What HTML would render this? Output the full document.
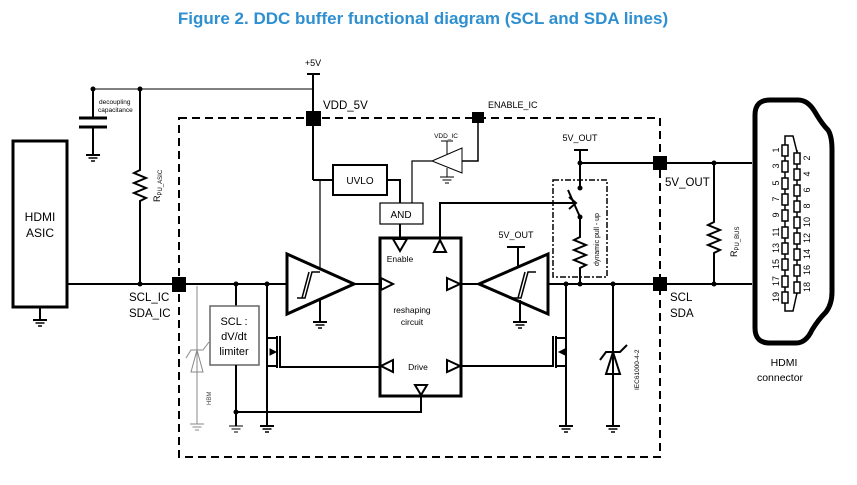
<!DOCTYPE html>
<html><head><meta charset="utf-8"><style>
html,body{margin:0;padding:0;background:#fff;}
svg{display:block;font-family:"Liberation Sans",Arial,sans-serif;}
</style></head><body>
<svg width="857" height="485" viewBox="0 0 857 485" xmlns="http://www.w3.org/2000/svg">
<defs>
<g id="gnd"><line x1="-7" y1="0" x2="7" y2="0" stroke="#000" stroke-width="2"/><line x1="-4.5" y1="3" x2="4.5" y2="3" stroke="#000" stroke-width="1.5"/><line x1="-2" y1="6" x2="2" y2="6" stroke="#000" stroke-width="1.5"/></g>
<g id="gndt"><line x1="-7" y1="0" x2="7" y2="0" stroke="#000" stroke-width="1"/><line x1="-4.5" y1="3" x2="4.5" y2="3" stroke="#000" stroke-width="1"/><line x1="-2" y1="6" x2="2" y2="6" stroke="#000" stroke-width="1"/></g>
</defs>
<text x="423" y="24" text-anchor="middle" font-size="17" font-weight="bold" fill="#2e8fd1">Figure 2. <tspan fill="#2e8fd1">DDC buffer functional diagram (SCL and SDA lines)</tspan></text>

<g fill="none" stroke="#000" stroke-width="2">
<rect x="179" y="118" width="481" height="339" stroke-dasharray="8,5"/>
<line x1="307" y1="74" x2="320" y2="74"/>
<line x1="313" y1="74" x2="313" y2="180"/>
<line x1="93" y1="89" x2="313" y2="89" stroke-width="1"/>
<line x1="93" y1="89" x2="93" y2="118"/>
<line x1="79" y1="118" x2="107" y2="118" stroke-width="3"/>
<line x1="79" y1="127" x2="107" y2="127" stroke-width="3"/>
<line x1="93" y1="127" x2="93" y2="155"/>
<polyline points="140,89 140,170 134,173 146,178 134,183 146,188 134,193 146,198 140,201 140,284"/>
<rect x="13" y="141" width="54" height="166" stroke-width="3"/>
<line x1="40" y1="307" x2="40" y2="320"/>
<line x1="67" y1="284" x2="286" y2="284"/>
<line x1="313" y1="180" x2="333" y2="180"/>
<rect x="333" y="165" width="54" height="30"/>
<polyline points="387,180 400,180 400,203"/>
<rect x="380" y="203" width="43" height="21" stroke-width="1.2"/>
<line x1="400" y1="224" x2="400" y2="238"/>
<polyline points="412,203 412,161 432,161" stroke-width="1.2"/>
<polygon points="432,161 462,148 462,173" stroke-width="1"/>
<line x1="441" y1="141" x2="453" y2="141" stroke-width="1"/>
<line x1="447" y1="141" x2="447" y2="154" stroke-width="1"/>
<line x1="447" y1="168" x2="447" y2="177" stroke-width="1"/>
<polyline points="462,161 478,161 478,117" stroke-width="1.5"/>
<line x1="320" y1="180" x2="320" y2="269" stroke-width="1.2"/>
<polygon points="287,254 354,284 287,314" stroke-width="3"/>
<polyline points="297,298 305,298 312,272 320,272" stroke-width="1.5"/>
<polyline points="302,298 309,272" stroke-width="1.5"/>
<line x1="320" y1="299" x2="320" y2="322"/>
<line x1="354" y1="284" x2="380" y2="284"/>
<rect x="380" y="238" width="81" height="158" stroke-width="3"/>
<polygon points="393,239 407,239 400,251"/>
<polygon points="381,278 393,284 381,290"/>
<polygon points="393,360 381,366 393,372"/>
<polygon points="447,278 460,284 447,290" fill="none"/>
<polygon points="447,360 460,366 447,372"/>
<polygon points="415,385 427,385 421,395"/>
<polygon points="434,252 446,252 440,240"/>
<polyline points="421,395 421,412 236,412"/>
<polyline points="440,240 440,203 576,203"/>
<polyline points="569,197 576,203 569,209"/>
<line x1="236" y1="284" x2="236" y2="306"/>
<rect x="210" y="306" width="49" height="59" stroke="#666" stroke-width="1.5"/>
<line x1="236" y1="365" x2="236" y2="426"/>
<line x1="197" y1="286" x2="197" y2="424" stroke="#888" stroke-width="1"/>
<polygon points="191,372 203,372 197,350" stroke="#888" stroke-width="1"/>
<polyline points="186,358 191,350 203,350 209,342" stroke="#888" stroke-width="1"/>
<line x1="267" y1="284" x2="267" y2="426"/>
<polyline points="267,338 277,338" /><polyline points="267,366 277,366"/>
<line x1="277" y1="336" x2="277" y2="368"/>
<polyline points="280,336 280,367 380,367"/>
<polygon points="270,349 276,352 270,355" fill="#000" stroke-width="1"/>
<line x1="461" y1="284" x2="479" y2="284"/>
<polygon points="479,284 548,254 548,314" stroke-width="3"/>
<polyline points="513,298 521,298 528,272 536,272" stroke-width="1.5"/>
<polyline points="518,298 525,272" stroke-width="1.5"/>
<line x1="507" y1="247" x2="525" y2="247"/>
<line x1="518" y1="247" x2="518" y2="268"/>
<line x1="520" y1="300" x2="520" y2="322"/>
<line x1="548" y1="284" x2="752" y2="284"/>
<line x1="566" y1="284" x2="566" y2="426"/>
<line x1="556" y1="338" x2="566" y2="338"/><line x1="556" y1="366" x2="566" y2="366"/>
<line x1="556" y1="336" x2="556" y2="368"/>
<polyline points="553,336 553,366 461,366"/>
<polygon points="565,349 559,352 565,355" fill="#000" stroke-width="1"/>
<line x1="613" y1="284" x2="613" y2="426"/>
<polygon points="606,374 620,374 613,352"/>
<polyline points="600,360 606,352 620,352 627,345"/>
<line x1="574" y1="150" x2="588" y2="150"/>
<line x1="580" y1="150" x2="580" y2="188"/>
<line x1="580" y1="163" x2="752" y2="163"/>
<line x1="580" y1="217" x2="568" y2="190"/>
<polyline points="580,217 580,237 574,240 586,245 574,250 586,255 574,260 586,265 580,268 580,284"/>
<rect x="553" y="180" width="54" height="97" stroke-width="1.5" stroke-dasharray="6,2,2,2"/>
<polyline points="714,163 714,222 708,225 720,230 708,235 720,240 708,245 720,250 714,253 714,284"/>
<path d="M770,100 L798,100 Q808,100 815,112 Q822,124 828,130 Q832,136 832,150 L832,292 Q832,304 826,312 Q818,320 812,330 Q806,343 796,343 L770,343 Q755,343 755,328 L755,115 Q755,100 770,100 Z" stroke-width="5"/>
<polyline points="785,143 785,136 793,136 797,152" stroke-width="1.5"/>
<polyline points="785,303 785,311 793,311 797,293" stroke-width="1.5"/>
<line x1="785" y1="143" x2="785" y2="303" stroke-width="1.5"/>
<line x1="797" y1="150" x2="797" y2="294" stroke-width="1.5"/>
</g>
<g fill="#fff" stroke="#000" stroke-width="1.5">
<rect x="782" y="145" width="6" height="11"/><rect x="782" y="161" width="6" height="11"/><rect x="782" y="178" width="6" height="11"/><rect x="782" y="194" width="6" height="11"/><rect x="782" y="210" width="6" height="11"/><rect x="782" y="227" width="6" height="11"/><rect x="782" y="243" width="6" height="11"/><rect x="782" y="259" width="6" height="11"/><rect x="782" y="276" width="6" height="11"/><rect x="782" y="292" width="6" height="11"/>
<rect x="794" y="153" width="6" height="11"/><rect x="794" y="169" width="6" height="11"/><rect x="794" y="185" width="6" height="11"/><rect x="794" y="201" width="6" height="11"/><rect x="794" y="217" width="6" height="11"/><rect x="794" y="233" width="6" height="11"/><rect x="794" y="249" width="6" height="11"/><rect x="794" y="265" width="6" height="11"/><rect x="794" y="282" width="6" height="11"/>
</g>
<g font-size="9" fill="#000">
<text transform="translate(779,150) rotate(-90)" text-anchor="middle">1</text>
<text transform="translate(779,166) rotate(-90)" text-anchor="middle">3</text>
<text transform="translate(779,183) rotate(-90)" text-anchor="middle">5</text>
<text transform="translate(779,199) rotate(-90)" text-anchor="middle">7</text>
<text transform="translate(779,215) rotate(-90)" text-anchor="middle">9</text>
<text transform="translate(779,232) rotate(-90)" text-anchor="middle">11</text>
<text transform="translate(779,248) rotate(-90)" text-anchor="middle">13</text>
<text transform="translate(779,264) rotate(-90)" text-anchor="middle">15</text>
<text transform="translate(779,281) rotate(-90)" text-anchor="middle">17</text>
<text transform="translate(779,297) rotate(-90)" text-anchor="middle">19</text>
<text transform="translate(810,158) rotate(-90)" text-anchor="middle">2</text>
<text transform="translate(810,174) rotate(-90)" text-anchor="middle">4</text>
<text transform="translate(810,190) rotate(-90)" text-anchor="middle">6</text>
<text transform="translate(810,206) rotate(-90)" text-anchor="middle">8</text>
<text transform="translate(810,222) rotate(-90)" text-anchor="middle">10</text>
<text transform="translate(810,238) rotate(-90)" text-anchor="middle">12</text>
<text transform="translate(810,254) rotate(-90)" text-anchor="middle">14</text>
<text transform="translate(810,270) rotate(-90)" text-anchor="middle">16</text>
<text transform="translate(810,287) rotate(-90)" text-anchor="middle">18</text>
</g>
<g fill="#000">
<rect x="306" y="111" width="15" height="15"/>
<rect x="172" y="277" width="14" height="15"/>
<rect x="472" y="112" width="12" height="11"/>
<rect x="653" y="156" width="14" height="14"/>
<rect x="653" y="277" width="14" height="14"/>
<circle cx="93" cy="89" r="2.5"/><circle cx="140" cy="89" r="2.5"/><circle cx="140" cy="284" r="2.5"/>
<circle cx="236" cy="284" r="2.5"/><circle cx="267" cy="284" r="2.5"/><circle cx="236" cy="412" r="2.5"/>
<circle cx="566" cy="284" r="2.5"/><circle cx="580" cy="284" r="2.5"/><circle cx="613" cy="284" r="2.5"/>
<circle cx="580" cy="163" r="2.5"/><circle cx="580" cy="188" r="2.5"/><circle cx="580" cy="217" r="2.5"/>
<circle cx="714" cy="163" r="2.5"/><circle cx="714" cy="284" r="2.5"/>
</g>
<use href="#gnd" x="93" y="155"/><use href="#gnd" x="40" y="320"/><use href="#gnd" x="320" y="322"/>
<use href="#gndt" x="236" y="426"/><use href="#gnd" x="267" y="426"/><use href="#gndt" x="447" y="177"/>
<use href="#gnd" x="520" y="322"/><use href="#gnd" x="566" y="426"/><use href="#gnd" x="613" y="426"/>
<g transform="translate(197,424)" stroke="#888" stroke-width="1"><line x1="-7" y1="0" x2="7" y2="0"/><line x1="-4.5" y1="3" x2="4.5" y2="3"/><line x1="-2" y1="6" x2="2" y2="6"/></g>
<g fill="#000">
<text x="313" y="66" font-size="9" text-anchor="middle">+5V</text>
<text x="99" y="104" font-size="6.5">decoupling</text>
<text x="98" y="112" font-size="6.5">capacitance</text>
<text transform="translate(160,202) rotate(-90)" font-size="9">R<tspan font-size="6" dy="2">PU_ASIC</tspan></text>
<text x="40" y="221" font-size="12" text-anchor="middle">HDMI</text>
<text x="40" y="237" font-size="12" text-anchor="middle">ASIC</text>
<text x="129" y="301" font-size="11.5">SCL_IC</text>
<text x="129" y="317" font-size="11.5">SDA_IC</text>
<text x="323" y="109" font-size="11.5">VDD_5V</text>
<text x="360" y="184" font-size="10" text-anchor="middle">UVLO</text>
<text x="401" y="218" font-size="10" text-anchor="middle">AND</text>
<text x="446" y="138" font-size="6.5" text-anchor="middle">VDD_IC</text>
<text x="488" y="108" font-size="9">ENABLE_IC</text>
<text x="400" y="262" font-size="8.5" text-anchor="middle">Enable</text>
<text x="412" y="313" font-size="8.5" text-anchor="middle">reshaping</text>
<text x="412" y="325" font-size="8.5" text-anchor="middle">circuit</text>
<text x="418" y="370" font-size="8.5" text-anchor="middle">Drive</text>
<text x="234" y="325" font-size="11" text-anchor="middle">SCL :</text>
<text x="234" y="340" font-size="11" text-anchor="middle">dV/dt</text>
<text x="234" y="355" font-size="11" text-anchor="middle">limiter</text>
<text transform="translate(211,405) rotate(-90)" font-size="6" fill="#444">HBM</text>
<text x="516" y="238" font-size="9" text-anchor="middle">5V_OUT</text>
<text x="580" y="141" font-size="9" text-anchor="middle">5V_OUT</text>
<text transform="translate(599,266) rotate(-90)" font-size="7">dynamic pull    - up</text>
<text transform="translate(639,390) rotate(-90)" font-size="6.5">IEC61000-4-2</text>
<text x="665" y="186" font-size="11.5">5V_OUT</text>
<text x="670" y="301" font-size="11.5">SCL</text>
<text x="670" y="317" font-size="11.5">SDA</text>
<text transform="translate(737,257) rotate(-90)" font-size="9">R<tspan font-size="6" dy="2">PU_BUS</tspan></text>
<text x="784" y="366" font-size="10.5" text-anchor="middle">HDMI</text>
<text x="780" y="381" font-size="10.5" text-anchor="middle">connector</text>
</g>
</svg>
</body></html>
